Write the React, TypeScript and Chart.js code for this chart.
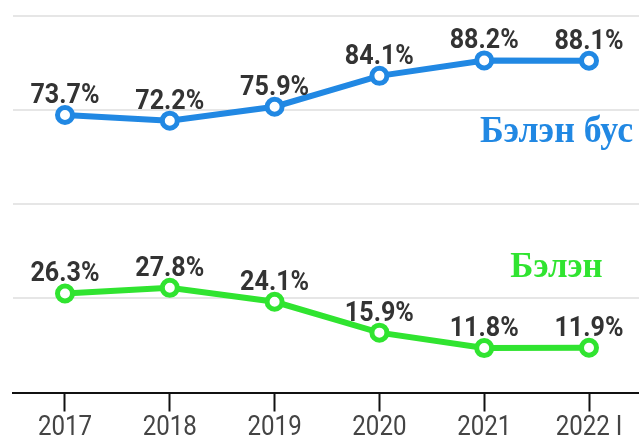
import React, { useEffect, useRef } from "react";
import { Chart, registerables } from "chart.js";

Chart.register(...registerables);

const categories = ["2017", "2018", "2019", "2020", "2021", "2022 I"];
const nonCash = [73.7, 72.2, 75.9, 84.1, 88.2, 88.1];
const cash = [26.3, 27.8, 24.1, 15.9, 11.8, 11.9];
const seriesNames = ["Бэлэн бус", "Бэлэн"];
const yTicks = [0, 25, 50, 75, 100];

const BLUE = "#2188e3";
const GREEN = "#30e430";

const textPlugin = {
  id: "textPlugin",
  afterDatasetsDraw(chart: any) {
    const ctx = chart.ctx as CanvasRenderingContext2D;
    const xs = chart.scales.x;
    const ys = chart.scales.y;

    const drawCondensed = (
      text: string,
      x: number,
      y: number,
      font: string,
      color: string,
      sx: number
    ) => {
      ctx.save();
      ctx.font = font;
      ctx.fillStyle = color;
      ctx.textAlign = "center";
      ctx.textBaseline = "alphabetic";
      ctx.translate(x, y);
      ctx.scale(sx, 1);
      ctx.fillText(text, 0, 0);
      ctx.restore();
    };

    // data labels
    chart.data.datasets.forEach((ds: any, di: number) => {
      const meta = chart.getDatasetMeta(di);
      meta.data.forEach((pt: any, i: number) => {
        drawCondensed(
          ds.data[i].toFixed(1) + "%",
          pt.x,
          pt.y - 12,
          "bold 27px Roboto",
          "#333333",
          0.93
        );
      });
    });

    // x tick labels
    categories.forEach((c, i) => {
      const x = xs.getPixelForValue(i);
      drawCondensed(c, x, chart.chartArea.bottom + 42.5, "28px Roboto", "#444444", 0.86);
    });

    // series name labels
    drawCondensed(
      seriesNames[0],
      xs.getPixelForValue(4.69),
      ys.getPixelForValue(66.6),
      "bold 37px 'Liberation Serif'",
      BLUE,
      0.97
    );
    drawCondensed(
      seriesNames[1],
      xs.getPixelForValue(4.69),
      ys.getPixelForValue(30.8),
      "bold 36px 'Liberation Serif'",
      GREEN,
      0.97
    );
  },
};

export default function App() {
  const ref = useRef<HTMLCanvasElement | null>(null);

  useEffect(() => {
    if (!ref.current) return;
    const chart = new Chart(ref.current, {
      type: "line",
      data: {
        labels: categories,
        datasets: [
          {
            label: seriesNames[0],
            data: nonCash,
            borderColor: BLUE,
            borderWidth: 6,
            pointRadius: 7.5,
            pointBorderWidth: 5,
            pointBackgroundColor: "#ffffff",
            pointBorderColor: BLUE,
            tension: 0,
          },
          {
            label: seriesNames[1],
            data: cash,
            borderColor: GREEN,
            borderWidth: 6,
            pointRadius: 7.5,
            pointBorderWidth: 5,
            pointBackgroundColor: "#ffffff",
            pointBorderColor: GREEN,
            tension: 0,
          },
        ],
      },
      options: {
        animation: false,
        responsive: false,
        maintainAspectRatio: false,
        devicePixelRatio: 1,
        layout: {
          autoPadding: false,
          padding: { left: 12.6, right: 3.6, top: 16, bottom: 27.5 },
        },
        plugins: {
          legend: { display: false },
          tooltip: { enabled: false },
        },
        scales: {
          x: {
            offset: true,
            border: { display: true, color: "#111111", width: 2 },
            grid: {
              display: true,
              offset: false,
              drawOnChartArea: false,
              drawTicks: true,
              tickLength: 19,
              tickColor: "#111111",
              tickWidth: 2,
            },
            ticks: { display: false },
          },
          y: {
            min: 0,
            max: 100,
            afterBuildTicks: (axis: any) => {
              axis.ticks = yTicks.map((v) => ({ value: v }));
            },
            border: { display: false },
            grid: {
              color: "#e6e6e6",
              lineWidth: 2,
              drawTicks: false,
            },
            ticks: { display: false },
          },
        },
      },
      plugins: [textPlugin],
    });
    return () => chart.destroy();
  }, []);

  return (
    <div
      style={{
        position: "fixed",
        left: 0,
        top: 0,
        width: 639,
        height: 439,
        overflow: "hidden",
        background: "#ffffff",
      }}
    >
      <canvas ref={ref} width={645} height={439} style={{ display: "block", width: 645, height: 439 }} />
    </div>
  );
}
